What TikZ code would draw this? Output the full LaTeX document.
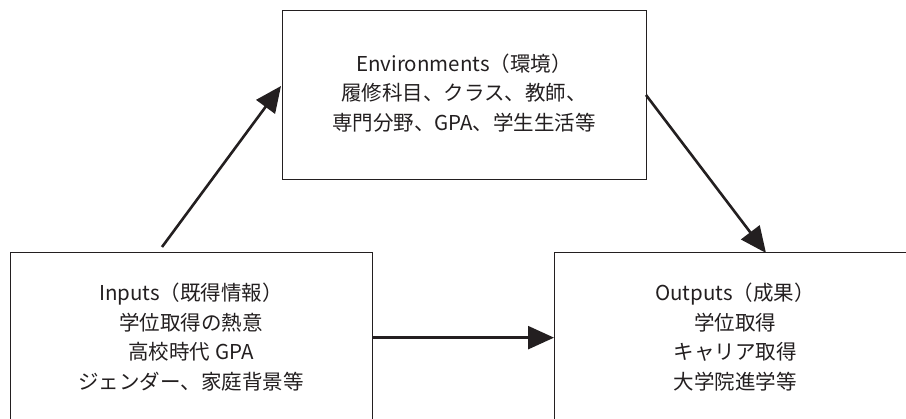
\documentclass[tikz,border=0pt]{standalone}
\usepackage{fontspec}
\setmainfont{Noto Sans CJK JP}
\usetikzlibrary{arrows.meta}
\definecolor{ink}{HTML}{231F20}
\tikzset{
  boxnode/.style={draw=ink, line width=1.3pt, rectangle, inner sep=0pt, anchor=north west},
  boxtext/.style={align=center, text=ink, font=\fontsize{20.5}{29.5}\selectfont, inner sep=0pt},
  flow/.style={draw=ink, line width=2.6pt, -{Triangle[length=26pt,width=23pt]}, shorten >=0pt}
}
\begin{document}
\begin{tikzpicture}[x=1pt,y=-1pt]
\useasboundingbox (0,0) rectangle (906,419);
\fill[white] (0,0) rectangle (906,419);
\clip (0,0) rectangle (906,419);
% boxes
\node[boxnode, minimum width=364pt, minimum height=169pt] (env) at (282,10) {};
\node[boxnode, minimum width=362pt, minimum height=170pt] (inp) at (10,252) {};
\node[boxnode, minimum width=380pt, minimum height=170pt] (outp) at (554,252) {};
% texts
\node[boxtext] (envt) at (464,93) {Environments（環境）\\履修科目、クラス、教師、\\専門分野、GPA、学生生活等};
\node[boxtext] (inpt) at (191,337) {Inputs（既得情報）\\学位取得の熱意\\高校時代 GPA\\ジェンダー、家庭背景等};
\node[boxtext] (outpt) at (735,337) {Outputs（成果）\\学位取得\\キャリア取得\\大学院進学等};
% connector end points
\coordinate (a1s) at (162,247);
\coordinate (a1e) at (281,86);
\coordinate (a2s) at (646,95);
\coordinate (a2e) at (766,253);
% arrows
\draw[flow] (a1s) -- (a1e);
\draw[flow] (a2s) -- (a2e);
\draw[flow] (inp.east) -- (outp.west);
\end{tikzpicture}
\end{document}
